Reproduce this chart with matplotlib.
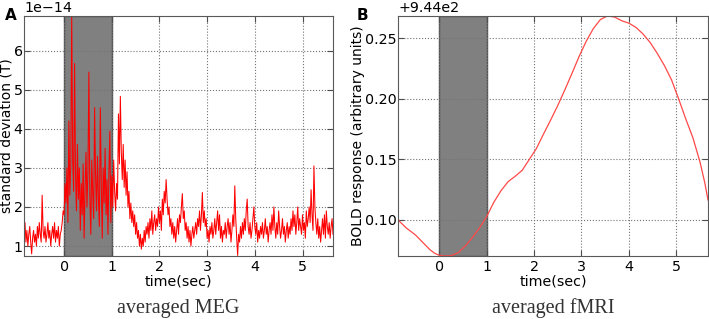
import numpy as np
import matplotlib
matplotlib.use("Agg")
import matplotlib.pyplot as plt

# averaged MEG: standard deviation (x 1e-14 T), one value every 0.02 s from -0.84 s
meg_t0 = -0.84
meg_dt = 0.02
meg_std = [
    1.2, 1.6, 1.1, 1.4, 1.0, 1.3, 1.5, 1.1, 0.8, 1.2,
    1.4, 1.1, 1.3, 1.0, 1.5, 1.2, 1.6, 1.3, 1.1, 2.3,
    1.4, 1.2, 1.5, 1.1, 1.3, 1.6, 1.2, 1.4, 1.0, 1.3,
    1.5, 1.2, 1.6, 1.1, 1.4, 1.2, 1.5, 1.0, 1.3, 1.4,
    1.6, 1.9, 1.8, 2.6, 2.1, 3.0, 1.6, 4.2, 2.3, 3.1,
    6.88, 3.2, 2.4, 5.67, 2.8, 1.9, 3.6, 2.2, 3.0, 1.4,
    2.6, 1.8, 3.1, 1.2, 2.5, 3.4, 2.0, 2.9, 5.45, 2.3,
    1.3, 3.2, 2.4, 1.7, 4.54, 2.8, 1.9, 3.3, 2.2, 1.5,
    4.54, 2.6, 1.2, 3.0, 2.1, 3.5, 1.8, 2.7, 1.3, 2.9,
    3.94, 1.6, 2.8, 2.0, 3.2, 2.4, 1.9, 2.6, 2.2, 4.38,
    3.1, 4.83, 3.4, 2.7, 3.6, 2.5, 3.2, 2.3, 2.9, 2.0,
    2.4, 1.7, 2.1, 1.6, 1.9, 1.5, 1.8, 1.3, 1.6, 1.2,
    1.4, 1.0, 1.3, 0.92, 1.2, 1.0, 1.4, 1.1, 1.5, 1.3,
    1.6, 1.2, 1.7, 1.4, 1.9, 1.3, 1.6, 1.8, 1.4, 1.7,
    1.5, 2.0, 1.6, 1.9, 1.4, 2.2, 1.8, 2.4, 2.1, 2.7,
    2.2, 1.8, 2.0, 1.5, 1.7, 1.3, 1.6, 1.2, 1.5, 1.1,
    1.4, 1.7, 1.3, 1.8, 1.6, 2.0, 2.34, 1.7, 1.9, 1.4,
    1.6, 1.2, 1.5, 1.1, 1.4, 1.0, 1.3, 1.5, 1.2, 1.4,
    1.6, 1.3, 1.7, 1.5, 1.9, 1.4, 1.8, 2.37, 1.6, 1.9,
    1.5, 1.7, 1.2, 1.4, 1.1, 1.5, 1.3, 1.6, 1.2, 1.4,
    1.7, 1.3, 1.6, 1.9, 1.4, 1.8, 1.2, 1.5, 1.1, 1.4,
    1.3, 1.6, 1.2, 1.5, 1.7, 1.3, 1.6, 1.1, 1.4, 1.8,
    1.5, 2.54, 1.7, 1.2, 0.76, 1.3, 1.1, 1.5, 1.2, 1.6,
    1.3, 1.7, 1.4, 1.9, 2.2, 1.5, 1.3, 1.6, 1.2, 1.4,
    1.7, 2.0, 1.5, 1.3, 1.6, 1.1, 1.4, 1.2, 1.5, 1.3,
    1.6, 1.2, 1.4, 1.7, 1.3, 1.5, 1.1, 1.4, 1.6, 1.3,
    1.8, 1.4, 2.0, 1.5, 1.2, 1.6, 1.3, 1.9, 1.5, 1.2,
    1.4, 1.7, 1.3, 1.5, 1.1, 1.4, 1.6, 1.2, 1.5, 1.3,
    1.7, 1.4, 1.9, 1.5, 1.8, 1.3, 1.6, 2.0, 1.4, 1.7,
    1.5, 1.3, 1.8, 1.4, 1.6, 1.2, 1.9, 1.5, 1.7, 2.0,
    1.6, 2.44, 1.8, 1.4, 3.05, 2.0, 1.6, 1.3, 1.7, 1.2,
    1.5, 1.1, 1.4, 1.7, 1.3, 1.8, 1.2, 1.9, 1.5, 1.3,
    1.6, 1.2, 1.5, 1.7, 1.3,
]
meg_scale = 1e-14

# averaged fMRI: BOLD response
fmri_t = [-0.87, -0.7, -0.5, -0.35, -0.2, -0.1, 0.0, 0.1, 0.25, 0.4,
          0.55, 0.7, 0.85, 1.0, 1.15, 1.3, 1.45, 1.6, 1.75, 1.9,
          2.05, 2.2, 2.35, 2.5, 2.65, 2.8, 2.95, 3.1, 3.25, 3.4,
          3.55, 3.7, 3.85, 4.0, 4.15, 4.3, 4.45, 4.6, 4.75, 4.9,
          5.05, 5.2, 5.35, 5.5, 5.6, 5.67]
fmri_bold = [944.1000, 944.0935, 944.0875, 944.0815, 944.0755, 944.0725,
             944.0708, 944.0702, 944.0704, 944.0730, 944.0785, 944.0855,
             944.0935, 944.1027, 944.1145, 944.1240, 944.1315, 944.1360,
             944.1410, 944.1500, 944.1590, 944.1710, 944.1825, 944.1945,
             944.2075, 944.2210, 944.2350, 944.2475, 944.2580, 944.2655,
             944.2685, 944.2675, 944.2645, 944.2625, 944.2590, 944.2535,
             944.2465, 944.2375, 944.2275, 944.2157, 944.2000, 944.1835,
             944.1680, 944.1480, 944.1310, 944.1165]

stim_on, stim_off = 0.0, 1.0

plt.rcParams["font.family"] = "DejaVu Sans"
plt.rcParams["font.size"] = 10.3
plt.rcParams["xtick.direction"] = "in"
plt.rcParams["ytick.direction"] = "in"
plt.rcParams["xtick.top"] = True
plt.rcParams["ytick.right"] = True
plt.rcParams["axes.edgecolor"] = "0.35"
plt.rcParams["axes.formatter.use_mathtext"] = False

fig = plt.figure(figsize=(7.09, 3.19), dpi=100)
axA = fig.add_axes([0.0339, 0.1975, 0.4358, 0.7523])
axB = fig.add_axes([0.5614, 0.1975, 0.4372, 0.7523])

meg_t = meg_t0 + meg_dt * np.arange(len(meg_std))
axA.axvspan(stim_on, stim_off, facecolor="#808080", edgecolor="#505050", lw=1.0)
axA.plot(meg_t, np.array(meg_std) * meg_scale, color="red", lw=0.75)
axA.set_xlim(-0.84, 5.64)
axA.set_ylim(0.745e-14, 6.885e-14)
axA.set_xticks([0, 1, 2, 3, 4, 5])
axA.set_yticks(np.array([1, 2, 3, 4, 5, 6]) * meg_scale)
axA.set_xlabel("time(sec)", labelpad=0)
axA.set_ylabel("standard deviation (T)", labelpad=0, fontsize=10)

axB.axvspan(stim_on, stim_off, facecolor="#808080", edgecolor="#505050", lw=1.0)
axB.plot(fmri_t, fmri_bold, color="#ff4848", lw=0.9)
axB.set_xlim(-0.87, 5.67)
axB.set_ylim(944.0702, 944.2684)
axB.set_xticks([0, 1, 2, 3, 4, 5])
axB.set_yticks([944.10, 944.15, 944.20, 944.25])
axB.ticklabel_format(axis="y", useOffset=944.0)
axB.set_xlabel("time(sec)", labelpad=0)
axB.set_ylabel("BOLD response (arbitrary units)", labelpad=0, fontsize=10)

for ax in (axA, axB):
    ax.grid(True, linestyle=":", color="0.45", lw=0.8)
    ax.tick_params(length=4, width=0.8, color="0.3")
    ax.tick_params(axis="y", pad=1)
    ax.tick_params(axis="x", pad=3)

fig.text(0.007, 0.975, "A", fontsize=11, fontweight="bold", va="top")
fig.text(0.503, 0.975, "B", fontsize=11, fontweight="bold", va="top")
fig.text(0.251, 0.019, "averaged MEG", fontsize=14.5, family="Liberation Serif",
         ha="center", va="baseline", color="0.2")
fig.text(0.78, 0.019, "averaged fMRI", fontsize=14.5, family="Liberation Serif",
         ha="center", va="baseline", color="0.2")

fig.savefig("out.png", dpi=100)
